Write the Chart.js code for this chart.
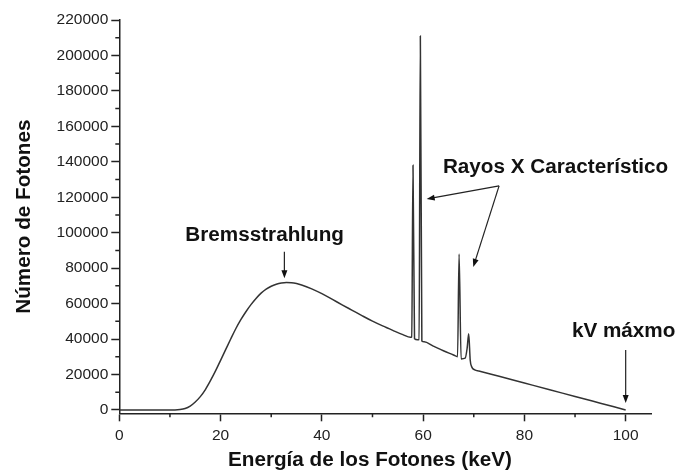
<!DOCTYPE html>
<html>
<head>
<meta charset="utf-8">
<script src="https://cdn.jsdelivr.net/npm/chart.js@4.4.1/dist/chart.umd.min.js"></script>
<style>
  html, body { margin: 0; padding: 0; background: #fff; }
  #chart { display: block; }
</style>
</head>
<body>
<canvas id="chart" width="678" height="472"></canvas>
<script>
// espectro: energia (keV) y numero de fotones
const energyKeV = [0, 10, 11, 12, 13, 14, 15, 16, 17, 18, 19, 20, 21, 22, 23, 24, 25, 26, 27, 28, 29, 30,
  31, 32, 33, 34, 35, 36, 38, 40, 42, 44, 46, 48, 50, 52, 54, 56, 57.5, 57.75, 58.0, 58.3, 58.9, 59.2, 59.45,
  59.75, 60.2, 62, 64, 66, 66.8, 67.1, 67.5, 68.3, 68.7, 69.0, 69.3, 69.6, 70.2, 71, 75, 80, 85, 90, 95, 100];
const photonCounts = [0, 0, 0, 200, 800, 2200, 4500, 7500, 11500, 16500, 22000, 28000, 34000, 40000, 45800,
  50900, 55400, 59400, 62900, 65900, 68200, 69800, 70900, 71600, 71900, 71800, 71300, 70500, 68300, 65600,
  62500, 59300, 56200, 53100, 50100, 47400, 44900, 42500, 41000, 41200, 138000, 40200, 39600, 39700, 211000,
  38900, 38400, 36000, 33400, 31000, 30000, 88000, 28800, 29200, 35000, 43000, 28000, 24300, 22600, 22000,
  18960, 15170, 11380, 7580, 3790, 0];

const xTickValues = [0, 20, 40, 60, 80, 100];
const xMinorValues = [10, 30, 50, 70, 90];
const yTickValues = [0, 20000, 40000, 60000, 80000, 100000, 120000, 140000, 160000, 180000, 200000, 220000];
const yMinorValues = [10000, 30000, 50000, 70000, 90000, 110000, 130000, 150000, 170000, 190000, 210000];
const xMin = 0, xMax = 105;
const yMin = -1900, yMax = 220000;

const xTitle = 'Energía de los Fotones (keV)';
const yTitle = 'Número de Fotones';

// textos y flechas de la figura, en unidades de los ejes
const noteTexts = ['Bremsstrahlung', 'Rayos X Característico', 'kV máxmo'];
const noteAt = [[28.7, 98700, 'center'], [63.9, 137100, 'left'], [99.6, 44200, 'center']];
const arrowLines = [
  [[32.6, 89300], [32.6, 74300]],
  [[75.0, 126400], [60.7, 119000]],
  [[75.0, 126400], [69.9, 80700]],
  [[100, 33800], [100, 3900]]
];

const AXIS_COLOR = '#222';
const FONT_FAMILY = '"Liberation Sans", Arial, sans-serif';
const BOLD = 'bold 20.7px ' + FONT_FAMILY;

const minorTicks = {
  id: 'minorTicks',
  afterDraw(chart) {
    const {ctx, scales: {x, y}} = chart;
    ctx.save();
    ctx.strokeStyle = AXIS_COLOR;
    ctx.lineWidth = 1.5;
    ctx.beginPath();
    for (const v of xMinorValues) {
      const px = x.getPixelForValue(v);
      ctx.moveTo(px, x.top);
      ctx.lineTo(px, x.top + 4);
    }
    for (const v of yMinorValues) {
      const py = y.getPixelForValue(v);
      ctx.moveTo(y.right, py);
      ctx.lineTo(y.right - 4, py);
    }
    ctx.stroke();
    ctx.restore();
  }
};

function drawArrow(ctx, x1, y1, x2, y2) {
  const ang = Math.atan2(y2 - y1, x2 - x1);
  const len = 8, half = 3;
  ctx.beginPath();
  ctx.moveTo(x1, y1);
  ctx.lineTo(x2 - Math.cos(ang) * len * 0.6, y2 - Math.sin(ang) * len * 0.6);
  ctx.stroke();
  ctx.beginPath();
  ctx.moveTo(x2, y2);
  ctx.lineTo(x2 - Math.cos(ang) * len - Math.sin(ang) * half, y2 - Math.sin(ang) * len + Math.cos(ang) * half);
  ctx.lineTo(x2 - Math.cos(ang) * len + Math.sin(ang) * half, y2 - Math.sin(ang) * len - Math.cos(ang) * half);
  ctx.closePath();
  ctx.fill();
}

const notesPlugin = {
  id: 'notes',
  afterDraw(chart) {
    const {ctx, scales: {x, y}, chartArea} = chart;
    ctx.save();
    ctx.fillStyle = '#111';
    ctx.strokeStyle = '#222';
    ctx.lineWidth = 1.2;
    ctx.font = BOLD;
    ctx.textBaseline = 'middle';
    for (let i = 0; i < noteTexts.length; i++) {
      ctx.textAlign = noteAt[i][2];
      ctx.fillText(noteTexts[i], x.getPixelForValue(noteAt[i][0]), y.getPixelForValue(noteAt[i][1]));
    }
    for (const a of arrowLines) {
      drawArrow(ctx, x.getPixelForValue(a[0][0]), y.getPixelForValue(a[0][1]),
        x.getPixelForValue(a[1][0]), y.getPixelForValue(a[1][1]));
    }
    // titulo del eje x
    ctx.textAlign = 'center';
    ctx.fillText(xTitle, x.getPixelForValue(49.5), chartArea.bottom + 47);
    ctx.restore();
  }
};

const points = energyKeV.map((e, i) => ({x: e, y: photonCounts[i]}));

new Chart(document.getElementById('chart'), {
  type: 'line',
  data: {
    datasets: [{
      data: points,
      borderColor: '#333',
      borderWidth: 1.5,
      pointRadius: 0,
      fill: false,
      cubicInterpolationMode: 'monotone'
    }]
  },
  options: {
    responsive: false,
    animation: false,
    devicePixelRatio: 1,
    layout: { padding: { top: 20, right: 27, left: 0, bottom: 0 } },
    plugins: { legend: { display: false }, tooltip: { enabled: false } },
    scales: {
      x: {
        type: 'linear',
        min: xMin,
        max: xMax,
        afterBuildTicks: (s) => { s.ticks = xTickValues.map(v => ({value: v})); },
        afterFit: (s) => { s.height = 58.7; },
        border: { color: AXIS_COLOR, width: 1.5 },
        grid: { drawOnChartArea: false, tickLength: 8, tickColor: AXIS_COLOR, tickWidth: 1.5 },
        ticks: {
          padding: 5,
          maxRotation: 0,
          autoSkip: false,
          color: '#222',
          font: { family: FONT_FAMILY, size: 15.5 }
        }
      },
      y: {
        min: yMin,
        max: yMax,
        afterBuildTicks: (s) => { s.ticks = yTickValues.map(v => ({value: v})); },
        afterFit: (s) => { s.width = 119.3; },
        border: { color: AXIS_COLOR, width: 1.5 },
        grid: { drawOnChartArea: false, tickLength: 8, tickColor: AXIS_COLOR, tickWidth: 1.5 },
        title: {
          display: true,
          text: yTitle,
          color: '#111',
          padding: { top: 12, bottom: 0 },
          font: { family: FONT_FAMILY, size: 20.7, weight: 'bold' }
        },
        ticks: {
          padding: 3,
          autoSkip: false,
          color: '#222',
          font: { family: FONT_FAMILY, size: 15.5 },
          callback: (v) => String(v)
        }
      }
    }
  },
  plugins: [minorTicks, notesPlugin]
});
</script>
</body>
</html>
